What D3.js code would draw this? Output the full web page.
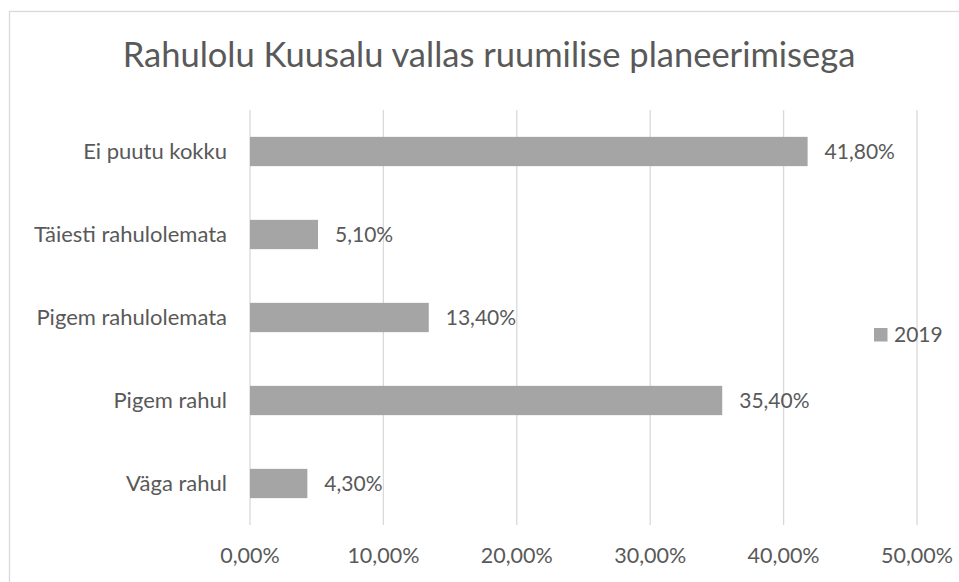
<!DOCTYPE html>
<meta charset="utf-8">
<head>
    <title></title>
    <script src="https://cdn.jsdelivr.net/npm/d3@7"></script>
</head>
<style>
    body{ margin:0; background:#fff; }
    text{ font-family: Lato, "Open Sans", sans-serif; fill:#595959; }
</style>
<svg width="959" height="582"></svg>
<script>
    var categories = ['Ei puutu kokku', 'Täiesti rahulolemata', 'Pigem rahulolemata', 'Pigem rahul', 'Väga rahul'],
        values = [41.8, 5.1, 13.4, 35.4, 4.3],
        ticks = [0, 10, 20, 30, 40, 50],
        seriesName = '2019',
        title = 'Rahulolu Kuusalu vallas ruumilise planeerimisega';

    var svg = d3.select('svg');
    var fmt = function(v){ return v.toFixed(2).replace('.', ',') + '%'; };

    // chart border
    svg.append('rect')
        .attr('x', 9.5).attr('y', 11.5)
        .attr('width', 980).attr('height', 600)
        .style('fill', 'none').style('stroke', '#d9d9d9').style('stroke-width', 1.3);

    var x = d3.scaleLinear().domain([0, 50]).range([250, 917]),
        y = d3.scaleBand().domain(categories).range([110, 525]).paddingInner(0.647).paddingOuter(0.3235);

    svg.append('text')
        .attr('x', 489).attr('y', 67)
        .attr('text-anchor', 'middle')
        .style('font-size', '34.5px')
        .text(title);

    // gridlines
    svg.append('g').selectAll('line').data(ticks).enter().append('line')
        .attr('x1', function(d){ return x(d); }).attr('x2', function(d){ return x(d); })
        .attr('y1', 110).attr('y2', 525)
        .style('stroke', '#d9d9d9').style('stroke-width', 1.3);

    // tick labels
    svg.append('g').selectAll('text').data(ticks).enter().append('text')
        .attr('x', function(d){ return x(d); })
        .attr('y', 563)
        .attr('text-anchor', 'middle')
        .style('font-size', '21.5px')
        .text(fmt);

    // category labels
    svg.append('g').selectAll('text').data(categories).enter().append('text')
        .attr('x', 227)
        .attr('y', function(d){ return y(d) + y.bandwidth() / 2 + 7; })
        .attr('text-anchor', 'end')
        .style('font-size', '22px')
        .text(function(d){ return d; });

    // bars
    svg.append('g').selectAll('rect').data(values).enter().append('rect')
        .attr('x', x(0))
        .attr('y', function(d, i){ return y(categories[i]); })
        .attr('width', function(d){ return x(d) - x(0); })
        .attr('height', y.bandwidth())
        .style('fill', '#a5a5a5');

    // data labels
    svg.append('g').selectAll('text').data(values).enter().append('text')
        .attr('x', function(d){ return x(d) + 17; })
        .attr('y', function(d, i){ return y(categories[i]) + y.bandwidth() / 2 + 7; })
        .style('font-size', '21px')
        .text(fmt);

    // legend
    var lg = svg.append('g');
    lg.append('rect').attr('x', 874).attr('y', 328).attr('width', 13.5).attr('height', 13.5).style('fill', '#a5a5a5');
    lg.append('text').attr('x', 894).attr('y', 342).style('font-size', '21px').text(seriesName);
</script>
